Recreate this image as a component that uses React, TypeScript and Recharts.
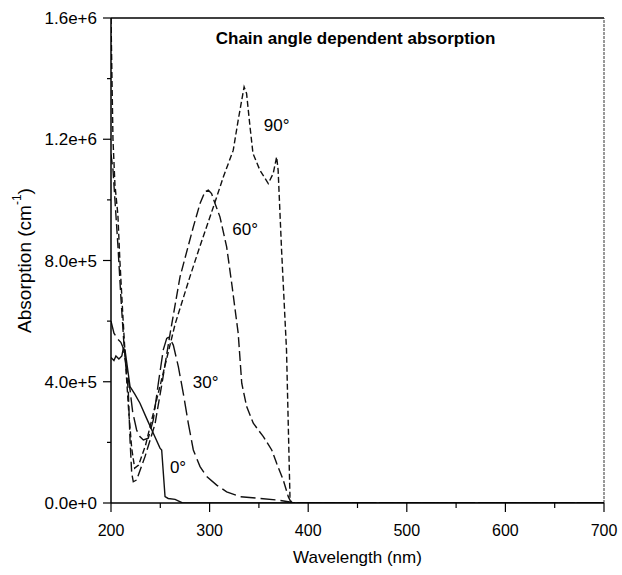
import { Line, LineChart, ReferenceDot, ReferenceLine, XAxis, YAxis } from "recharts";

// 0 deg (solid)
const wl0 = [200, 203, 205, 208, 211, 212.5, 214.2, 219.3, 224, 229.4, 236, 242.9, 249.7, 251.4, 254.8, 258, 265, 272, 275, 700];
const abs0 = [4.8e5, 4.7e5, 4.85e5, 4.75e5, 4.85e5, 5.1e5, 5.05e5, 3.84e5, 3.6e5, 3.29e5, 2.8e5, 2.3e5, 1.81e5, 1.75e5, 2.1e4, 1.5e4, 1.2e4, 1e3, 0, 0];

// 30 deg (long dash)
const wl30 = [200, 203, 207, 210, 212.5, 216, 219.3, 222, 226, 229, 232.8, 237.8, 242.9, 248, 253, 256.5, 258.1, 260, 263.2, 268.3, 273.3, 278.4, 283.5, 290.3, 297.1, 307.2, 317.3, 330.8, 351.1, 368, 379.8, 386, 700];
const abs30 = [6.0e5, 5.6e5, 5.4e5, 5.3e5, 5.11e5, 4.4e5, 3.73e5, 3.0e5, 2.41e5, 2.2e5, 2.08e5, 2.14e5, 2.74e5, 3.95e5, 5.05e5, 5.43e5, 5.46e5, 5.4e5, 5.21e5, 4.5e5, 3.62e5, 2.63e5, 1.75e5, 1.2e5, 8.7e4, 5.9e4, 3.7e4, 2.1e4, 1.5e4, 1.0e4, 4e3, 0, 0];

// 60 deg (medium dash)
const wl60 = [200, 202, 204, 207, 210, 213, 216, 217.5, 219.3, 221, 222.6, 226, 234.5, 244.6, 252, 260, 270, 283.5, 290.3, 295.3, 298.7, 302, 305.5, 310.5, 317.3, 322.4, 329, 332.6, 337.6, 344.3, 354.5, 363, 368, 374.7, 379.8, 382.3, 384, 700];
const abs60 = [1.15e6, 1.1e6, 1.0e6, 8.5e5, 6.8e5, 5.3e5, 4.2e5, 3.73e5, 2.08e5, 9.9e4, 7.0e4, 7.6e4, 1.53e5, 2.6e5, 4.0e5, 5.6e5, 7.46e5, 9.11e5, 9.88e5, 1.027e6, 1.032e6, 1.021e6, 9.88e5, 9.44e5, 8.45e5, 7.25e5, 5.6e5, 3.95e5, 3.18e5, 2.63e5, 2.19e5, 1.75e5, 1.31e5, 7.6e4, 2.1e4, 4e3, 0, 0];

// 90 deg (short dash)
const wl90 = [200, 201, 202, 204, 207, 209, 212, 215, 218, 221, 224, 228, 235, 250, 265, 280, 290, 305, 314, 324, 329, 335, 337.5, 341, 344, 351, 359.5, 364.5, 368, 369.5, 373, 378, 381.5, 383, 700];
const abs90 = [1.6e6, 1.4e6, 1.2e6, 1.05e6, 9.5e5, 8e5, 6.2e5, 4.5e5, 3.0e5, 1.8e5, 1.15e5, 1.25e5, 1.9e5, 3.9e5, 5.9e5, 7.46e5, 8.45e5, 9.88e5, 1.076e6, 1.164e6, 1.263e6, 1.373e6, 1.351e6, 1.241e6, 1.153e6, 1.098e6, 1.054e6, 1.087e6, 1.142e6, 1.098e6, 8.34e5, 5.05e5, 2.1e4, 0, 0];

const xTicks = [200, 250, 300, 350, 400, 450, 500, 550, 600, 650, 700];
const xTickLabels = ["200", "", "300", "", "400", "", "500", "", "600", "", "700"];
const yTicks = [0, 2e5, 4e5, 6e5, 8e5, 1e6, 1.2e6, 1.4e6, 1.6e6];
const yTickLabels = ["0.0e+0", "", "4.0e+5", "", "8.0e+5", "", "1.2e+6", "", "1.6e+6"];

const FONT = "'Liberation Sans', Arial, sans-serif";

const toPoints = (xs: number[], ys: number[]) => xs.map((x, i) => ({ x, y: ys[i] }));

const series = [
  { name: "0°", data: toPoints(wl0, abs0), dash: undefined },
  { name: "30°", data: toPoints(wl30, abs30), dash: "15 5" },
  { name: "60°", data: toPoints(wl60, abs60), dash: "10 4" },
  { name: "90°", data: toPoints(wl90, abs90), dash: "6 3" },
];

const XTick = ({ x, y, payload }: any) => {
  const label = xTickLabels[xTicks.indexOf(payload.value)];
  const major = !!label;
  return (
    <g>
      <line x1={x} x2={x} y1={y} y2={y + (major ? 9 : 5)} stroke="#000" strokeWidth={1.2} />
      {major && (
        <text x={x} y={y + 33} textAnchor="middle" fontSize={16} fontFamily={FONT} fill="#000">
          {label}
        </text>
      )}
    </g>
  );
};

const YTick = ({ x, y, payload }: any) => {
  const label = yTickLabels[yTicks.indexOf(payload.value)];
  const major = !!label;
  return (
    <g>
      <line x1={x - (major ? 8 : 4)} x2={x} y1={y} y2={y} stroke="#000" strokeWidth={1.2} />
      {major && (
        <text x={x - 14} y={y + 6} textAnchor="end" fontSize={17} fontFamily={FONT} fill="#000">
          {label}
        </text>
      )}
    </g>
  );
};

const YLabel = ({ viewBox }: any) => {
  const cx = 24;
  const cy = viewBox.y + viewBox.height / 2;
  return (
    <text
      x={cx}
      y={cy}
      transform={`rotate(-90 ${cx} ${cy})`}
      textAnchor="middle"
      dominantBaseline="central"
      fontSize={19}
      fontFamily={FONT}
      fill="#000"
    >
      Absorption (cm
      <tspan fontSize={12} dy={-7}>-1</tspan>
      <tspan dy={7}>)</tspan>
    </text>
  );
};

const XLabel = ({ viewBox }: any) => (
  <text
    x={viewBox.x + viewBox.width / 2}
    y={viewBox.y + 60}
    textAnchor="middle"
    fontSize={17}
    fontFamily={FONT}
    fill="#000"
  >
    Wavelength (nm)
  </text>
);

const notes = [
  { text: "Chain angle dependent absorption", x: 448, y: 1.535e6, bold: true },
  { text: "90°", x: 368, y: 1.247e6 },
  { text: "60°", x: 336, y: 9.04e5 },
  { text: "30°", x: 296, y: 4.0e5 },
  { text: "0°", x: 268, y: 1.19e5 },
];

export default function App() {
  return (
    <div style={{ position: "absolute", left: 0, top: 0, width: 622, height: 575, background: "#fff" }}>
      <LineChart width={622} height={575} margin={{ top: 18, right: 18, bottom: 0, left: 0 }}>
        <XAxis
          type="number"
          dataKey="x"
          domain={[200, 700]}
          ticks={xTicks}
          interval={0}
          tick={<XTick />}
          tickLine={false}
          tickSize={0}
          tickMargin={0}
          height={72}
          axisLine={{ stroke: "#000", strokeWidth: 1.5 }}
          allowDataOverflow
          label={<XLabel />}
        />
        <YAxis
          type="number"
          domain={[0, 1.6e6]}
          ticks={yTicks}
          interval={0}
          tick={<YTick />}
          tickLine={false}
          tickSize={0}
          tickMargin={0}
          width={111}
          axisLine={{ stroke: "#000", strokeWidth: 1.5 }}
          allowDataOverflow
          label={<YLabel />}
        />
        <ReferenceLine y={1.6e6} stroke="#000" strokeWidth={1.5} />
        <ReferenceLine x={700} stroke="#333" strokeWidth={1} strokeDasharray="3 1" />
        {series.map((s) => (
          <Line
            key={s.name}
            data={s.data}
            dataKey="y"
            type="linear"
            stroke="#111"
            strokeWidth={1.4}
            strokeDasharray={s.dash}
            dot={false}
            activeDot={false}
            isAnimationActive={false}
          />
        ))}
        {notes.map((n) => (
          <ReferenceDot
            key={n.text}
            x={n.x}
            y={n.y}
            r={0}
            fill="none"
            stroke="none"
            label={{
              value: n.text,
              position: "center",
              fontSize: 17,
              fontWeight: n.bold ? "bold" : "normal",
              fontFamily: FONT,
              fill: "#000",
            }}
          />
        ))}
      </LineChart>
    </div>
  );
}
